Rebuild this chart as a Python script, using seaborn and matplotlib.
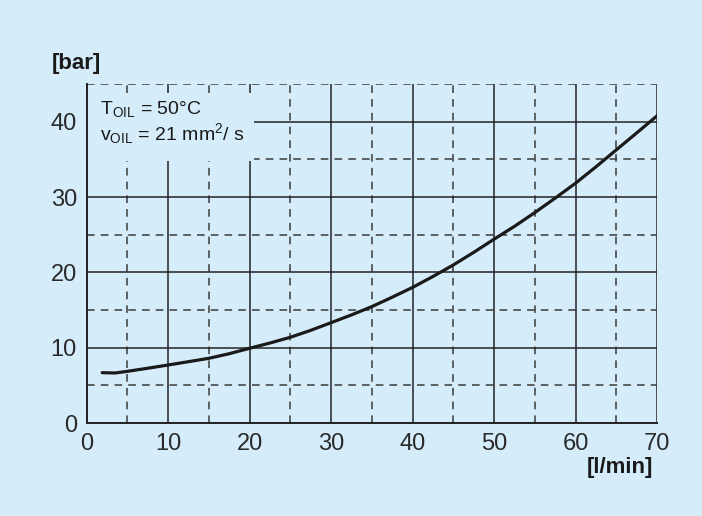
import matplotlib
matplotlib.use("Agg")
import matplotlib.pyplot as plt
import seaborn as sns
import pandas as pd
from matplotlib.ticker import MultipleLocator
from matplotlib.patches import Rectangle

flow = [1.9, 3.5, 5, 7.5, 10, 12.5, 15, 17.5, 20, 22.5, 25, 27.5, 30, 32.5, 35, 37.5, 40,
        42.5, 45, 47.5, 50, 52.5, 55, 57.5, 60, 62.5, 65, 67.5, 70]
pressure = [6.68, 6.64, 6.86, 7.27, 7.70, 8.14, 8.59, 9.2, 9.92, 10.62, 11.38, 12.3, 13.32, 14.35,
            15.45, 16.7, 18.0, 19.45, 20.98, 22.65, 24.4, 26.1, 27.93, 29.85, 31.83, 34.0, 36.25, 38.5, 40.77]
x_ticks = [0, 10, 20, 30, 40, 50, 60, 70]
y_ticks = [0, 10, 20, 30, 40]

bg = "#d5edfa"
ink = "#222222"
sns.set_theme(style="white")
plt.rcParams['font.family'] = ['Liberation Sans', 'DejaVu Sans']
plt.rcParams['mathtext.default'] = 'regular'

fig = plt.figure(figsize=(7.02, 5.16), dpi=100, facecolor=bg)
ax = fig.add_axes([86.7 / 702, 1 - 423 / 516, (657 - 86.7) / 702, (423 - 84) / 516])
ax.set_facecolor(bg)

df = pd.DataFrame({"flow": flow, "pressure": pressure})
sns.lineplot(data=df, x="flow", y="pressure", ax=ax, color="#1a1a1a", linewidth=2.3, zorder=5,
             solid_joinstyle="round", solid_capstyle="round")

ax.set_xlim(0, 70)
ax.set_ylim(0, 45)
ax.set_xticks(x_ticks)
ax.set_yticks(y_ticks)
ax.xaxis.set_minor_locator(MultipleLocator(5))
ax.yaxis.set_minor_locator(MultipleLocator(5))
ax.grid(which="major", color=ink, linewidth=1.1, linestyle="-", zorder=1)
ax.grid(which="minor", color="#3a3a3a", linewidth=1.1, linestyle=(0, (5, 4)), zorder=1)
ax.set_axisbelow(True)
for s in ["top", "right"]:
    ax.spines[s].set_visible(False)
for s in ["left", "bottom"]:
    ax.spines[s].set_color(ink)
    ax.spines[s].set_linewidth(1.4)
ax.tick_params(which="both", length=0, labelsize=17, colors="#2a2a2a")
ax.tick_params(axis="x", pad=7)
ax.tick_params(axis="y", pad=7)
ax.set_xlabel("")
ax.set_ylabel("")

ax.add_patch(Rectangle((0, 34.75), 20.5, 9.0, facecolor=bg, edgecolor="none", zorder=2))
ax.text(1.63, 41.05, "T$_{OIL}$ = 50°C", fontsize=14, va="baseline", ha="left",
        color="#1a1a1a", zorder=3)
ax.text(1.63, 37.5, "v$_{OIL}$ = 21 mm$^{2}$/ s", fontsize=14, va="baseline", ha="left",
        color="#1a1a1a", zorder=3)

fig.text(52 / 702, 1 - 64 / 516, "[bar]", fontsize=16, fontweight="bold", va="center", ha="left", color="#1a1a1a")
fig.text(653 / 702, 1 - 467 / 516, "[l/min]", fontsize=16, fontweight="bold", va="center", ha="right", color="#1a1a1a")

fig.savefig("out.png", dpi=100, facecolor=bg)
